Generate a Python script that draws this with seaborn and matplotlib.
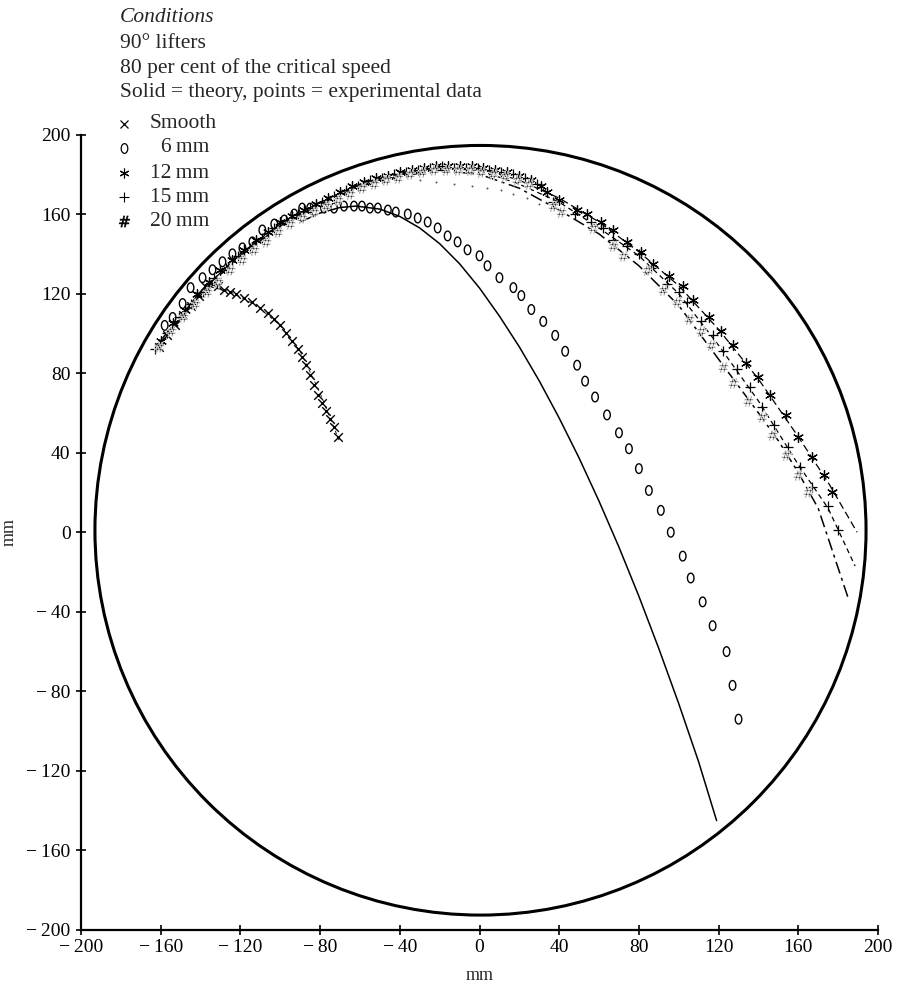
import numpy as np
import pandas as pd
import matplotlib
matplotlib.use("Agg")
import matplotlib.pyplot as plt
from matplotlib.patches import Circle
from matplotlib.path import Path
from matplotlib.lines import Line2D
import seaborn as sns

# ---------------- data (mm) ----------------
# Smooth drum: experimental points
smooth_x = [-161, -157, -153, -149, -145, -141, -138, -134, -131, -128, -125, -122,
            -118, -114, -110, -106, -103, -100, -97, -94, -91, -89, -87, -85, -83,
            -81, -79, -77, -75, -73, -71]
smooth_y = [93, 99, 104, 109, 114, 119, 124, 125, 124, 122, 121, 120, 118, 116, 113,
            110, 107, 104, 100, 96, 92, 88, 84, 79, 74, 69, 65, 61, 57, 53, 48]
smooth_theory_x = [-138, -125, -112, -100, -90, -80, -70]
smooth_theory_y = [124, 121, 114, 104, 91, 70, 45]

# 6 mm lifters
mm6_x = [-158, -154, -149, -145, -139, -134, -129, -124, -119, -114, -109, -103, -98,
         -93, -89, -85, -78, -73, -68, -63, -59, -55, -51, -46, -42, -36, -31, -26,
         -21, -16, -11, -6, 0, 4, 10, 17, 21, 26, 32, 38, 43, 49, 53, 58, 64, 70, 75,
         80, 85, 91, 96, 102, 106, 112, 117, 124, 127, 130]
mm6_y = [104, 108, 115, 123, 128, 132, 136, 140, 143, 146, 152, 155, 157, 160, 163,
         163, 163, 163, 164, 164, 164, 163, 163, 162, 161, 160, 158, 156, 153, 149,
         146, 142, 139, 134, 128, 123, 119, 112, 106, 99, 91, 84, 76, 68, 59, 50, 42,
         32, 21, 11, 0, -12, -23, -35, -47, -60, -77, -94]
mm6_theory_x = [-90, -80, -70, -62, -50, -40, -30, -20, -10, 0, 10, 20, 30, 40, 50,
                60, 70, 80, 90, 100, 110, 119]
mm6_theory_y = [156, 160.5, 163.3, 164, 162.5, 158.8, 153, 145.1, 135, 122.8, 108.7,
                93.2, 76.1, 57.4, 37.3, 15.6, -7.5, -32.2, -58.5, -86.2, -115.5, -145]

# 12 mm lifters
mm12_x = [-160, -154, -148, -142, -136, -130, -124, -118, -112, -106, -100, -94, -88,
          -82, -76, -70, -64, -58, -52, -46, -40, -34, -28, -22, -16, -10, -4, 2, 8,
          14, 20, 26, 31, 34, 40, 49, 54, 61, 67, 74, 81, 87, 95, 102, 107, 115, 121,
          127, 134, 140, 146, 154, 160, 167, 173, 177]
mm12_y = [96, 105, 112, 120, 126, 132, 137, 142, 147, 151, 156, 159, 162, 165, 168,
          171, 174, 176, 178, 179, 181, 182, 183, 184, 184, 184, 184, 183, 182, 181,
          179, 177, 174, 171, 167, 162, 160, 156, 152, 146, 141, 135, 129, 124, 117,
          108, 101, 94, 85, 78, 69, 59, 48, 38, 29, 20]
mm12_theory_x = [-162, -140, -120, -100, -80, -60, -40, -20, 0, 20, 40, 60, 80, 100,
                 120, 140, 160, 175, 189.5]
mm12_theory_y = [94, 121, 140, 155, 166, 175, 181, 183, 183, 177, 168, 156, 141, 124,
                 102, 77, 48, 25, 0]

# 15 mm lifters
mm15_x = [-163, -157, -151, -145, -139, -133, -127, -121, -115, -109, -103, -97, -91,
          -85, -79, -73, -67, -61, -55, -49, -43, -37, -31, -25, -19, -13, -7, -1, 5,
          11, 17, 23, 29, 37, 48, 56, 62, 67, 74, 80, 86, 94, 100, 104, 111, 117, 122,
          129, 136, 142, 148, 155, 161, 167, 175, 180]
mm15_y = [92, 100, 108, 115, 121, 128, 133, 139, 143, 148, 153, 157, 160, 163, 166,
          169, 172, 174, 177, 178, 180, 181, 182, 183, 184, 183, 183, 183, 182, 181,
          180, 178, 175, 166, 160, 156, 153, 147, 144, 140, 133, 125, 121, 116, 106,
          99, 91, 82, 73, 63, 54, 43, 33, 23, 13, 1]
mm15_theory_x = [-162, -140, -120, -100, -80, -60, -40, -20, 0, 20, 40, 60, 80, 100,
                 120, 140, 160, 175, 188.5]
mm15_theory_y = [94, 121, 140, 155, 166, 175, 180, 183, 182, 175, 166, 153, 139, 120,
                 94, 66, 34, 12, -17]

# 20 mm lifters
mm20_x = [-161, -155, -149, -143, -137, -131, -125, -119, -113, -107, -101, -95, -89,
          -83, -77, -71, -65, -59, -53, -47, -41, -35, -29, -23, -17, -11, -5, 1, 7,
          13, 19, 25, 37, 41, 57, 67, 72, 84, 92, 99, 105, 111, 116, 122, 127, 135,
          142, 147, 154, 160, 165]
mm20_y = [93, 101, 108, 115, 121, 126, 132, 137, 142, 146, 151, 155, 158, 161, 164,
          167, 170, 173, 175, 177, 178, 180, 181, 182, 182, 182, 182, 181, 180, 179,
          177, 175, 164, 161, 153, 144, 139, 132, 122, 116, 107, 101, 94, 83, 75, 66,
          58, 49, 39, 29, 20]
mm20_theory_x = [-162, -140, -120, -100, -80, -60, -40, -20, 0, 20, 40, 60, 80, 100,
                 120, 140, 150, 160, 170, 185]
mm20_theory_y = [93, 120, 139, 154, 165, 174, 179, 182, 180, 173, 162, 150, 134, 114,
                 87, 60, 46, 30, 12, -33]

# faint dotted trace under the top band
trace_x = [-30, -22, -13, -4, 4, 11, 17, 24, 30]
trace_y = [177, 176, 175, 174, 173, 172, 170, 168, 165]

# drum shell
drum_cx, drum_cy, drum_r = 0.5, 1.0, 193.5

tick_values = [-200, -160, -120, -80, -40, 0, 40, 80, 120, 160, 200]
tick_labels = ["\u2212\u2009200", "\u2212\u2009160", "\u2212\u2009120", "\u2212\u200980",
               "\u2212\u200940", "0", "40", "80", "120", "160", "200"]

header_lines = ["90\u00b0 lifters", "80 per cent of the critical speed",
                "Solid = theory, points = experimental data"]
series_labels = ["Smooth", "6\u2009mm", "12\u2009mm", "15\u2009mm", "20\u2009mm"]

# ---------------- style ----------------
sns.set_theme(style="ticks")
plt.rcParams["font.family"] = ["Liberation Serif", "DejaVu Serif"]
plt.rcParams["axes.unicode_minus"] = True

W, H = 898, 988
fig = plt.figure(figsize=(W / 100, H / 100), dpi=100)
fig.patch.set_facecolor("white")
ax = fig.add_axes([81 / W, 1 - 930 / H, 797 / W, 795.5 / H])
ax.set_facecolor("white")

# tall open "0"-shaped marker
t = np.linspace(0, 2 * np.pi, 41)
oval = Path(np.column_stack([0.68 * np.cos(t), np.sin(t)]), closed=True)
hash_marker = r"$\#$"
aster = (6, 2, 0)

# drum wall
ax.add_patch(Circle((drum_cx, drum_cy), drum_r, fill=False, lw=2.2, color="black", zorder=3))

# theory curves
def curve(xs, ys, ls, lw):
    sns.lineplot(x=xs, y=ys, sort=False, estimator=None, ax=ax, color="black", lw=lw)
    ax.lines[-1].set_linestyle(ls)

curve(mm6_theory_x, mm6_theory_y, "-", 1.1)
curve(mm12_theory_x, mm12_theory_y, (0, (6, 3)), 0.9)
curve(mm15_theory_x, mm15_theory_y, (0, (4, 3)), 0.9)
curve(mm20_theory_x, mm20_theory_y, (0, (8, 3, 2, 3)), 1.1)
curve(smooth_theory_x, smooth_theory_y, (0, (4, 4)), 0.6)

# experimental points
def pts(xs, ys, marker, s, lw, open_face=False):
    sns.scatterplot(x=xs, y=ys, marker=marker, s=s, color="black", linewidth=lw,
                    ax=ax, legend=False, zorder=4)
    coll = ax.collections[-1]
    if open_face:
        coll.set_facecolor("none")
        coll.set_edgecolor("black")

pts(smooth_x, smooth_y, "x", 38, 1.0)
pts(mm6_x, mm6_y, oval, 48, 1.0, open_face=True)
pts(mm12_x, mm12_y, aster, 50, 0.9)
pts(mm15_x, mm15_y, "+", 45, 0.9)
pts(mm20_x, mm20_y, hash_marker, 60, 0.5)
sns.scatterplot(x=trace_x, y=trace_y, marker=".", s=8, color="#555555", linewidth=0,
                ax=ax, legend=False)

# axes
ax.set_xlim(-200, 200)
ax.set_ylim(-200, 200)
ax.set_xticks(tick_values)
ax.set_yticks(tick_values)
ax.set_xticklabels(tick_labels)
ax.set_yticklabels(tick_labels)
ax.tick_params(direction="inout", length=7, width=1.2, labelsize=14, colors="black", pad=3)
ax.tick_params(axis="y", pad=4)
for side in ("top", "right"):
    ax.spines[side].set_visible(False)
for side in ("left", "bottom"):
    ax.spines[side].set_linewidth(1.6)
    ax.spines[side].set_color("black")
ax.set_xlabel("mm", fontsize=13)
ax.set_ylabel("mm", fontsize=13)
ax.xaxis.set_label_coords(0.5, -0.047)
ax.yaxis.set_label_coords(-0.08, 0.5)

# header and key
fx = 120 / W
fs = 15.5
fig.text(fx, 1 - 18 / H, "Conditions", style="italic", fontsize=fs, va="center")
for i, line in enumerate(header_lines):
    fig.text(fx, 1 - (43 + 24.7 * i) / H, line, fontsize=fs, va="center")

key_markers = [("x", 6, 0.9, "black"), (oval, 7, 0.9, "none"), (aster, 7, 0.8, "black"),
               ("+", 7, 0.8, "black"), (hash_marker, 8, 0.4, "black")]
key_y = [124, 148, 173, 197, 221]
key_text_x = [150, 161, 150, 150, 150]
for (mk, ms, mw, fc), yy, tx, lab in zip(key_markers, key_y, key_text_x, series_labels):
    fig.add_artist(Line2D([124 / W], [1 - yy / H], marker=mk, markersize=ms,
                          markeredgewidth=mw, markerfacecolor=fc, markeredgecolor="black",
                          linestyle="none", transform=fig.transFigure))
    fig.text(tx / W, 1 - yy / H, lab, fontsize=fs, va="center")

fig.savefig("out.png", dpi=100)
